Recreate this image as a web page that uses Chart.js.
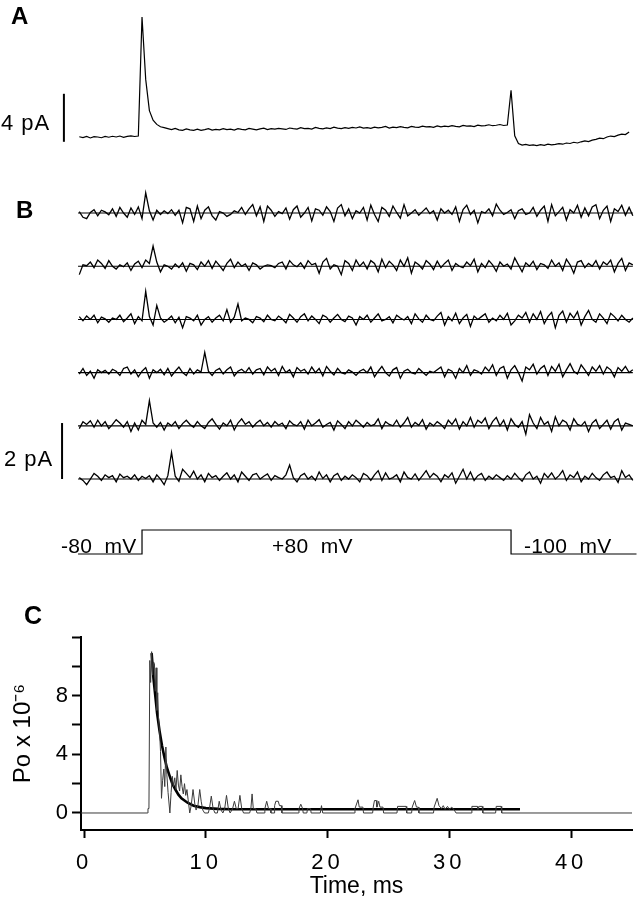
<!DOCTYPE html>
<html>
<head>
<meta charset="utf-8">
<script src="https://cdn.jsdelivr.net/npm/chart.js@4.4.0/dist/chart.umd.min.js"></script>
<style>
html,body{margin:0;padding:0;background:#fff;}
#fig{position:relative;width:637px;height:900px;overflow:hidden;font-family:"Liberation Sans",Arial,Helvetica,sans-serif;color:#000;}
#fig canvas{position:absolute;left:0;}
.lbl{position:absolute;line-height:1;white-space:pre;}
</style>
</head>
<body>
<div id="fig">
  <canvas id="cA" width="637" height="160" style="top:0px"></canvas>
  <canvas id="cB" width="637" height="320" style="top:180px"></canvas>
  <canvas id="cP" width="637" height="70" style="top:500px"></canvas>
  <canvas id="cC" width="637" height="310" style="top:590px"></canvas>
</div>
<script>
// ---------------- DATA ----------------
// Panels A and B: traces sampled every 0.3 ms starting at -0.1 ms
const sampleStartMs = -0.1;
const sampleStepMs = 0.3;

// Panel A: averaged current (pA)
const traceA_pA = [
  0.02,-0.05,0.05,-0.08,0.03,0.0,-0.06,0.05,-0.02,0.06,
  0.0,0.08,-0.03,0.05,0.1,0.04,0.08,10.0,4.8,2.2,
  1.4,1.05,0.85,0.78,0.7,0.62,0.72,0.6,0.55,0.68,
  0.6,0.56,0.66,0.55,0.62,0.7,0.58,0.64,0.6,0.7,
  0.62,0.66,0.58,0.7,0.64,0.6,0.72,0.66,0.6,0.68,
  0.74,0.62,0.7,0.66,0.72,0.68,0.63,0.75,0.7,0.66,
  0.78,0.7,0.72,0.66,0.8,0.72,0.68,0.76,0.7,0.82,
  0.74,0.7,0.78,0.72,0.8,0.75,0.84,0.74,0.78,0.72,
  0.82,0.76,0.8,0.88,0.74,0.82,0.78,0.86,0.8,0.76,
  0.88,0.82,0.8,0.9,0.84,0.86,0.8,0.92,0.85,0.9,
  0.86,0.94,0.88,0.84,0.96,0.9,0.92,0.86,0.98,0.92,
  0.95,1.02,0.94,0.98,1.04,0.96,1.0,3.9,0.1,-0.55,
  -0.68,-0.62,-0.7,-0.66,-0.72,-0.64,-0.7,-0.6,-0.66,-0.62,
  -0.56,-0.6,-0.5,-0.54,-0.44,-0.5,-0.4,-0.32,-0.38,-0.26,
  -0.2,-0.1,-0.14,0.0,0.08,0.04,0.16,0.24,0.2,0.42
];

// Panel B: single-sweep currents (pA)
const traceB1_pA = [
  0.05,-0.15,-0.2,0.02,0.12,-0.1,0.1,0.04,-0.06,0.15,
  -0.12,0.2,0.0,-0.15,0.18,-0.05,0.22,-0.2,0.72,0.08,
  -0.25,0.1,-0.05,0.08,-0.02,0.12,-0.08,0.1,-0.35,0.2,
  0.15,-0.3,0.25,-0.2,0.1,0.22,-0.1,-0.25,0.05,0.0,
  -0.12,-0.05,0.08,0.02,0.2,-0.05,0.15,0.3,-0.1,0.22,
  -0.3,0.25,0.1,-0.12,0.05,-0.02,0.18,-0.22,0.12,0.25,
  -0.15,0.0,0.2,-0.28,0.15,0.1,-0.08,0.22,0.05,-0.3,
  0.18,0.3,-0.1,0.15,-0.2,0.08,0.0,0.2,-0.25,0.28,
  -0.05,-0.3,0.2,0.1,-0.12,0.25,0.02,-0.18,0.3,-0.1,
  0.0,0.12,-0.08,0.05,0.18,-0.02,0.08,-0.25,0.15,0.0,
  0.1,-0.05,0.22,-0.3,0.12,0.28,-0.05,0.1,-0.35,0.05,
  0.0,0.15,-0.1,0.32,0.1,-0.05,0.02,0.12,-0.2,0.08,
  0.15,-0.05,0.0,0.2,-0.12,0.1,0.25,-0.3,0.3,-0.1,
  0.05,0.2,-0.25,0.12,0.0,0.28,-0.15,0.18,-0.1,0.22,
  0.3,-0.2,0.1,0.25,-0.3,0.15,0.05,0.28,-0.08,0.2,
  -0.1
];
const traceB2_pA = [
  -0.3,0.05,0.02,0.15,-0.05,0.22,0.1,-0.08,0.2,0.0,
  -0.1,0.05,-0.02,0.12,-0.15,0.08,0.18,-0.05,0.22,0.1,
  0.72,0.15,-0.2,0.05,0.0,-0.1,0.08,-0.05,0.12,-0.18,
  0.1,0.05,-0.12,0.15,0.0,0.2,-0.08,0.18,0.02,-0.15,
  0.1,0.25,-0.05,0.15,0.0,0.08,-0.15,0.12,0.05,-0.1,
  0.0,0.05,0.02,-0.05,0.1,0.15,-0.1,0.2,0.05,-0.02,
  0.12,-0.08,0.2,0.05,0.1,-0.25,0.15,0.28,-0.1,0.05,
  0.0,-0.3,0.2,0.1,-0.15,0.22,0.0,0.15,-0.1,0.2,
  0.1,-0.2,0.25,-0.05,0.18,0.05,-0.15,0.22,0.0,0.3,
  -0.25,0.15,0.05,-0.1,0.2,0.08,-0.12,0.18,-0.05,0.1,
  0.22,-0.15,0.1,0.0,-0.05,0.15,0.02,0.25,-0.2,0.1,
  -0.05,0.2,0.05,-0.18,0.15,0.0,0.08,-0.1,0.3,0.05,
  -0.2,0.12,0.0,0.18,-0.12,0.1,0.05,-0.08,0.22,0.0,
  0.12,-0.15,0.25,0.05,-0.25,0.15,0.2,-0.05,0.1,0.0,
  0.2,-0.1,0.15,0.05,0.22,-0.2,0.1,0.28,-0.15,0.12,
  0.05
];
const traceB3_pA = [
  0.1,-0.05,0.12,0.0,0.15,-0.12,0.08,0.02,-0.1,0.05,
  0.0,0.15,-0.08,0.05,0.2,-0.15,0.1,-0.05,1.0,0.1,
  -0.2,0.5,0.05,-0.1,0.0,0.12,-0.12,0.08,-0.3,0.1,
  0.05,-0.05,0.15,-0.2,0.0,0.1,-0.1,0.05,0.15,-0.05,
  0.35,-0.1,0.08,0.55,-0.05,0.05,0.0,-0.12,0.1,0.05,
  -0.08,0.15,0.0,-0.05,0.12,0.02,-0.12,0.18,0.05,-0.1,
  0.1,0.2,-0.05,0.12,0.0,-0.15,0.15,0.08,-0.1,0.05,
  0.18,0.0,-0.08,0.12,0.05,-0.2,0.1,0.0,0.15,-0.1,
  0.05,0.2,-0.05,0.0,0.1,-0.12,0.15,0.05,-0.02,0.1,
  -0.15,0.2,0.02,-0.1,0.15,0.0,-0.05,0.12,0.25,-0.2,
  0.1,-0.05,0.22,-0.15,0.05,0.18,-0.25,0.12,0.0,0.1,
  0.2,-0.1,0.05,-0.05,0.15,0.0,0.22,-0.2,-0.05,0.15,
  0.05,0.25,-0.1,0.2,0.0,0.28,-0.15,0.1,0.25,-0.3,
  0.15,0.3,-0.1,0.22,0.05,0.28,-0.2,0.1,0.32,0.0,
  -0.1,0.2,0.05,-0.15,0.22,0.1,-0.05,0.15,0.0,-0.1,
  0.05
];
const traceB4_pA = [
  -0.05,0.15,-0.1,0.05,-0.2,0.1,0.0,0.08,-0.05,0.12,
  0.05,-0.1,0.15,0.2,-0.05,0.1,-0.15,0.05,0.18,-0.2,
  0.1,0.0,0.12,-0.08,0.15,-0.12,0.05,0.2,0.0,-0.1,
  0.15,-0.05,0.1,0.02,0.72,0.05,-0.1,0.08,0.15,-0.05,
  0.1,0.2,-0.12,0.05,0.12,0.0,0.18,-0.05,0.1,0.15,
  -0.08,0.2,0.05,0.15,-0.1,0.22,0.0,0.1,-0.15,0.18,
  0.05,0.12,-0.05,0.2,0.0,0.15,-0.12,0.22,0.05,-0.08,
  0.15,0.0,-0.05,0.1,0.02,-0.1,0.05,0.12,0.0,0.2,
  -0.15,0.05,0.22,0.0,-0.12,0.1,0.18,-0.2,0.05,0.12,
  0.0,-0.05,0.15,0.02,-0.1,0.05,0.0,0.1,0.2,-0.15,
  0.12,0.05,-0.2,0.15,0.0,0.25,-0.1,0.1,0.05,-0.05,
  0.2,0.05,0.28,-0.1,0.15,0.22,-0.2,0.1,0.25,0.0,
  -0.3,0.2,0.1,0.3,-0.05,0.15,0.25,-0.1,0.22,0.05,
  0.3,-0.15,0.1,0.32,0.05,-0.05,0.28,0.1,-0.1,0.2,
  0.05,0.25,-0.05,0.2,0.1,-0.15,0.18,0.05,0.22,0.0,
  0.1
];
const traceB5_pA = [
  -0.1,0.15,0.05,0.18,-0.05,0.2,0.0,0.15,-0.1,0.05,
  0.22,0.1,-0.05,0.15,-0.2,0.1,-0.15,0.2,0.05,0.9,
  0.1,-0.05,0.12,-0.15,0.1,0.0,0.15,-0.1,0.08,0.2,
  0.05,-0.05,0.15,0.0,-0.1,0.12,0.25,0.05,-0.12,0.1,
  0.0,0.2,-0.15,0.1,0.25,0.05,0.15,-0.05,0.1,0.2,
  0.0,0.12,-0.05,0.15,0.02,0.1,-0.1,0.18,0.05,0.0,
  0.15,-0.12,0.2,0.0,0.1,0.22,-0.05,0.05,0.12,-0.15,
  0.18,0.05,-0.1,0.15,0.0,0.2,0.08,-0.05,0.12,0.0,
  0.05,0.25,-0.1,0.15,0.05,0.0,0.2,-0.05,0.1,0.3,
  -0.05,0.12,0.02,0.22,-0.12,0.1,0.0,0.15,0.05,-0.1,
  0.2,0.05,0.25,-0.12,0.15,0.0,0.3,-0.05,0.2,0.1,
  0.28,-0.1,0.15,0.3,0.0,0.2,-0.15,0.25,0.05,-0.05,
  0.15,-0.3,0.4,0.1,-0.1,0.3,0.05,0.15,-0.2,0.32,
  0.0,0.2,0.12,-0.15,0.25,0.05,0.0,0.15,-0.2,0.1,
  0.22,-0.1,0.05,0.2,-0.12,0.15,0.25,-0.15,0.1,0.05,
  0.0
];
const traceB6_pA = [
  0.05,-0.05,-0.2,0.0,0.2,0.1,-0.05,0.15,0.05,0.12,
  -0.1,0.18,0.05,0.1,0.0,0.15,-0.05,0.1,0.02,0.12,
  -0.1,0.15,0.0,-0.2,0.12,0.95,0.1,-0.08,0.35,0.2,
  0.05,0.28,0.0,0.15,-0.1,0.2,0.05,0.12,-0.05,0.1,
  0.22,0.0,0.15,-0.1,0.25,0.1,-0.05,0.15,0.2,0.0,
  0.1,0.18,-0.05,0.12,0.05,0.0,0.15,0.5,0.05,-0.1,
  0.12,0.2,0.0,0.1,-0.05,0.25,0.02,0.15,-0.1,0.12,
  0.2,-0.05,0.1,0.0,0.15,0.05,-0.1,0.2,0.12,-0.05,
  0.15,0.3,-0.05,0.22,0.0,0.05,0.15,-0.1,0.25,0.05,
  0.0,0.18,-0.05,0.12,0.3,0.05,0.2,0.1,-0.1,0.15,
  0.05,0.22,-0.15,0.1,0.35,0.0,0.25,-0.05,0.12,0.2,
  -0.05,0.1,0.0,0.15,0.05,-0.05,0.12,0.0,0.2,0.05,
  -0.08,0.15,0.25,0.0,0.1,-0.15,0.2,0.05,0.22,0.0,
  0.12,0.3,-0.05,0.15,0.05,0.25,-0.1,0.1,0.0,0.2,
  0.05,-0.05,0.15,0.25,0.05,0.1,-0.12,0.3,0.05,0.15,
  -0.05
];
const traceB_startMs = -0.2;
const traceB_endMs = 44.9;
const scaleBarA_pA = 4;
const scaleBarB_pA = 2;

// Voltage protocol
const protocolTimesMs = [-0.2, 5, 35, 45.2];
const protocolMV = [-80, 80, -100];

// Panel C: open probability (x 10^-6) vs time (ms)
const poTimesMs = [
  -0.25,5.2,5.25,5.33,5.4,5.47,5.55,5.63,5.7,5.78,5.85,5.92,5.98,6.05,6.12,6.2,6.28,6.36,6.45,6.55,
  6.63,6.72,6.8,6.9,7.05,7.15,7.25,7.35,7.45,7.55,7.65,7.75,7.85,7.95,8.05,8.15,8.25,8.35,8.45,8.55,
  8.68,8.8,8.95,9.1,9.2,9.35,9.5,9.62,9.75,9.9,10.2,10.3,10.45,10.6,10.75,10.95,11.1,11.25,11.4,11.55,
  11.7,11.85,12.0,12.2,12.35,12.5,12.65,12.8,12.95,13.1,13.6,13.7,13.8,13.9,14.1,14.2,14.8,14.85,15.0,15.15,
  15.3,15.35,15.6,15.65,15.75,15.95,16.05,16.2,16.25,17.6,17.65,17.8,17.95,18.0,18.3,18.35,18.6,18.65,19.4,19.5,
  19.6,22.2,22.25,22.5,22.6,22.9,22.95,23.7,23.75,23.85,24.0,24.05,24.2,24.3,24.55,24.6,25.7,25.75,26.45,26.5,
  26.9,26.95,27.15,27.3,27.45,27.5,28.7,28.75,29.0,29.15,29.35,29.5,29.65,29.85,30.0,30.2,30.4,30.55,31.8,31.85,
  32.3,32.35,32.45,32.7,32.75,33.8,33.85,34.25,34.3,45.0
];
const poValues = [
  0,0,0.3,0.3,10.4,8.9,11.0,9.4,10.3,10.2,8.3,9.9,7.0,8.2,6.4,5.6,4.2,1.0,2.2,3.0,
  1.8,4.5,2.6,1.4,0.0,1.4,2.5,1.8,2.4,1.6,2.9,1.9,1.5,2.6,1.8,1.3,2.0,1.2,1.6,0.9,
  0.0,0.5,1.6,0.6,0.2,0.5,1.6,0.8,0.2,0.0,0.0,0.3,1.15,0.3,0.0,0.0,0.8,0.2,0.0,0.3,
  1.2,0.3,0.0,0.3,0.8,0.3,0.3,1.2,0.3,0.0,0.0,0.3,1.3,0.3,0.3,0.0,0.0,0.3,0.8,0.3,
  0.3,0.0,0.0,0.5,0.8,0.8,0.5,0.5,0.0,0.0,0.3,0.6,0.3,0.0,0.0,0.3,0.3,0.0,0.0,0.5,
  0.0,0.0,0.3,0.9,0.4,0.4,0.0,0.0,0.4,0.85,0.85,0.4,0.8,0.4,0.4,0.0,0.0,0.45,0.45,0.0,
  0.0,0.4,0.85,0.4,0.4,0.0,0.0,0.4,1.0,0.5,0.3,0.5,0.25,0.45,0.25,0.4,0.2,0.0,0.0,0.45,
  0.45,0.25,0.45,0.45,0.0,0.0,0.45,0.45,0.0,0.0
];
// Exponential fit
const fitTimesMs = [5.55,5.7,5.85,6.0,6.2,6.4,6.6,6.8,7.0,7.25,7.5,7.75,8.0,8.5,9.0,9.5,10.0,11.0,12.0,15.0,20.0,25.0,30.0,35.8];
const fitValues  = [10.9,9.2,8.0,6.8,5.6,4.6,3.8,3.1,2.6,2.0,1.6,1.25,1.0,0.7,0.5,0.4,0.33,0.28,0.26,0.25,0.25,0.25,0.25,0.25];

const xTicksC = [0, 10, 20, 30, 40];
const yTicksC = [0, 2, 4, 6, 8, 10, 12];
const yTickLabelsC = [0, 4, 8];

// ---------------- LAYOUT ----------------
const FONT = '"Liberation Sans", Arial, Helvetica, sans-serif';
const X_MIN = -6.545, X_MAX = 45.24;       // shared time scale for panels A, B and protocol
const A_Y = [-1.917, 11.417];
const B_Y = [-10.249, 1.18];
const B_SPACING = 1.9;
const P_Y = [-0.667, 2.25];
const BAR_A_X = -1.35, BAR_A_BASE = -0.4;
const BAR_B_X = -1.5;

function sampled(vals, off) {
  return vals.map((v, i) => ({x: sampleStartMs + i * sampleStepMs, y: v + off}));
}
function paired(ts, vs) { return vs.map((v, i) => ({x: ts[i], y: v})); }
function ds(data, extra) {
  return Object.assign({data, borderColor: '#000', borderWidth: 1.2, pointRadius: 0, fill: false, tension: 0}, extra || {});
}
function hiddenChart(id, datasets, yr) {
  return new Chart(document.getElementById(id), {
    type: 'line',
    data: {datasets},
    options: {
      responsive: false, animation: false, events: [],
      layout: {padding: 0},
      plugins: {legend: {display: false}, tooltip: {enabled: false}},
      scales: {
        x: {type: 'linear', display: false, min: X_MIN, max: X_MAX},
        y: {type: 'linear', display: false, min: yr[0], max: yr[1]}
      }
    }
  });
}

// Panel A
hiddenChart('cA', [
  ds(sampled(traceA_pA, 0), {borderWidth: 1.2}),
  ds([{x: BAR_A_X, y: BAR_A_BASE}, {x: BAR_A_X, y: BAR_A_BASE + scaleBarA_pA}], {borderWidth: 2})
], A_Y);

// Panel B
const tracesB = [traceB1_pA, traceB2_pA, traceB3_pA, traceB4_pA, traceB5_pA, traceB6_pA];
const bSets = [];
tracesB.forEach((tr, k) => {
  const off = -k * B_SPACING;
  bSets.push(ds([{x: traceB_startMs, y: off}, {x: traceB_endMs, y: off}], {borderWidth: 1.1}));
  bSets.push(ds(sampled(tr, off), {borderWidth: 1.3}));
});
const lastOff = -(tracesB.length - 1) * B_SPACING;
bSets.push(ds([{x: BAR_B_X, y: lastOff}, {x: BAR_B_X, y: lastOff + scaleBarB_pA}], {borderWidth: 2}));
hiddenChart('cB', bSets, B_Y);

// Voltage protocol (drawn schematically: depolarised level high, others low)
const protoPts = protocolTimesMs.map((t, i) => {
  const mv = protocolMV[Math.min(i, protocolMV.length - 1)];
  return {x: t, y: mv > 0 ? 1 : 0};
});
hiddenChart('cP', [ds(protoPts, {stepped: true, borderWidth: 1.2})], P_Y);

// Panel C
const spacedLabels = {
  id: 'spacedLabels',
  beforeDraw(chart) {
    const sx = chart.scales.x;
    if (sx && !sx._spacedPatched) {
      const orig = sx.drawLabels.bind(sx);
      sx.drawLabels = function (area) {
        const ctx = this.ctx;
        ctx.save();
        ctx.letterSpacing = '4px';
        orig(area);
        ctx.restore();
      };
      sx._spacedPatched = true;
    }
  }
};
new Chart(document.getElementById('cC'), {
  type: 'line',
  data: {datasets: [
    ds(paired(poTimesMs, poValues), {borderColor: '#3a3a3a', borderWidth: 1}),
    ds(paired(fitTimesMs, fitValues), {borderColor: '#000', borderWidth: 2.6})
  ]},
  options: {
    responsive: false, animation: false, events: [],
    layout: {padding: {top: 47, right: 5, left: 0, bottom: 0}},
    plugins: {legend: {display: false}, tooltip: {enabled: false}},
    scales: {
      x: {
        type: 'linear', min: -0.25, max: 45,
        border: {display: true, color: '#000', width: 2},
        grid: {display: true, drawOnChartArea: false, drawTicks: true, tickLength: 8, tickWidth: 2, color: '#000'},
        afterBuildTicks: s => { s.ticks = xTicksC.map(v => ({value: v})); },
        ticks: {color: '#000', font: {family: FONT, size: 22}, padding: 12, maxRotation: 0, autoSkip: false},
        title: {display: true, text: 'Time, ms', color: '#000', font: {family: FONT, size: 23}, padding: {top: 0, bottom: 0}},
        afterFit: s => { s.height = 70; }
      },
      y: {
        type: 'linear', min: -1.16, max: 12,
        border: {display: true, color: '#000', width: 2},
        grid: {display: true, drawOnChartArea: false, drawTicks: true, tickLength: 9, tickWidth: 2, color: '#000'},
        afterBuildTicks: s => { s.ticks = yTicksC.map(v => ({value: v})); },
        ticks: {color: '#000', font: {family: FONT, size: 22}, padding: 4, autoSkip: false,
                callback: v => (yTickLabelsC.includes(v) ? String(v) : '')},
        title: {display: true, text: 'Po x 10\u207B\u2076', color: '#000', font: {family: FONT, size: 24}, padding: {top: 9, bottom: 0}},
        afterFit: s => { s.width = 81; }
      }
    }
  },
  plugins: [spacedLabels]
});

// ---------------- TEXT LABELS ----------------
const fig = document.getElementById('fig');
function label(text, left, baseline, size, bold, extra) {
  const d = document.createElement('div');
  d.className = 'lbl';
  d.textContent = text;
  d.style.left = left + 'px';
  d.style.top = (baseline - 0.8465 * size) + 'px';
  d.style.fontSize = size + 'px';
  if (bold) d.style.fontWeight = 'bold';
  if (extra) Object.assign(d.style, extra);
  fig.appendChild(d);
  return d;
}
label('A', 11, 24, 24, true);
label('B', 16, 218, 24, true);
label('C', 24, 624, 25, true);
label('4 pA', 1, 131, 22, false, {letterSpacing: '1px'});
label('2 pA', 4, 467, 22, false, {letterSpacing: '1px'});
label('-80  mV', 61, 553, 21, false, {letterSpacing: '0.3px'});
label('+80  mV', 272, 553, 21, false, {letterSpacing: '0.3px'});
label('-100  mV', 524, 553, 21, false, {letterSpacing: '0.3px'});
</script>
</body>
</html>
